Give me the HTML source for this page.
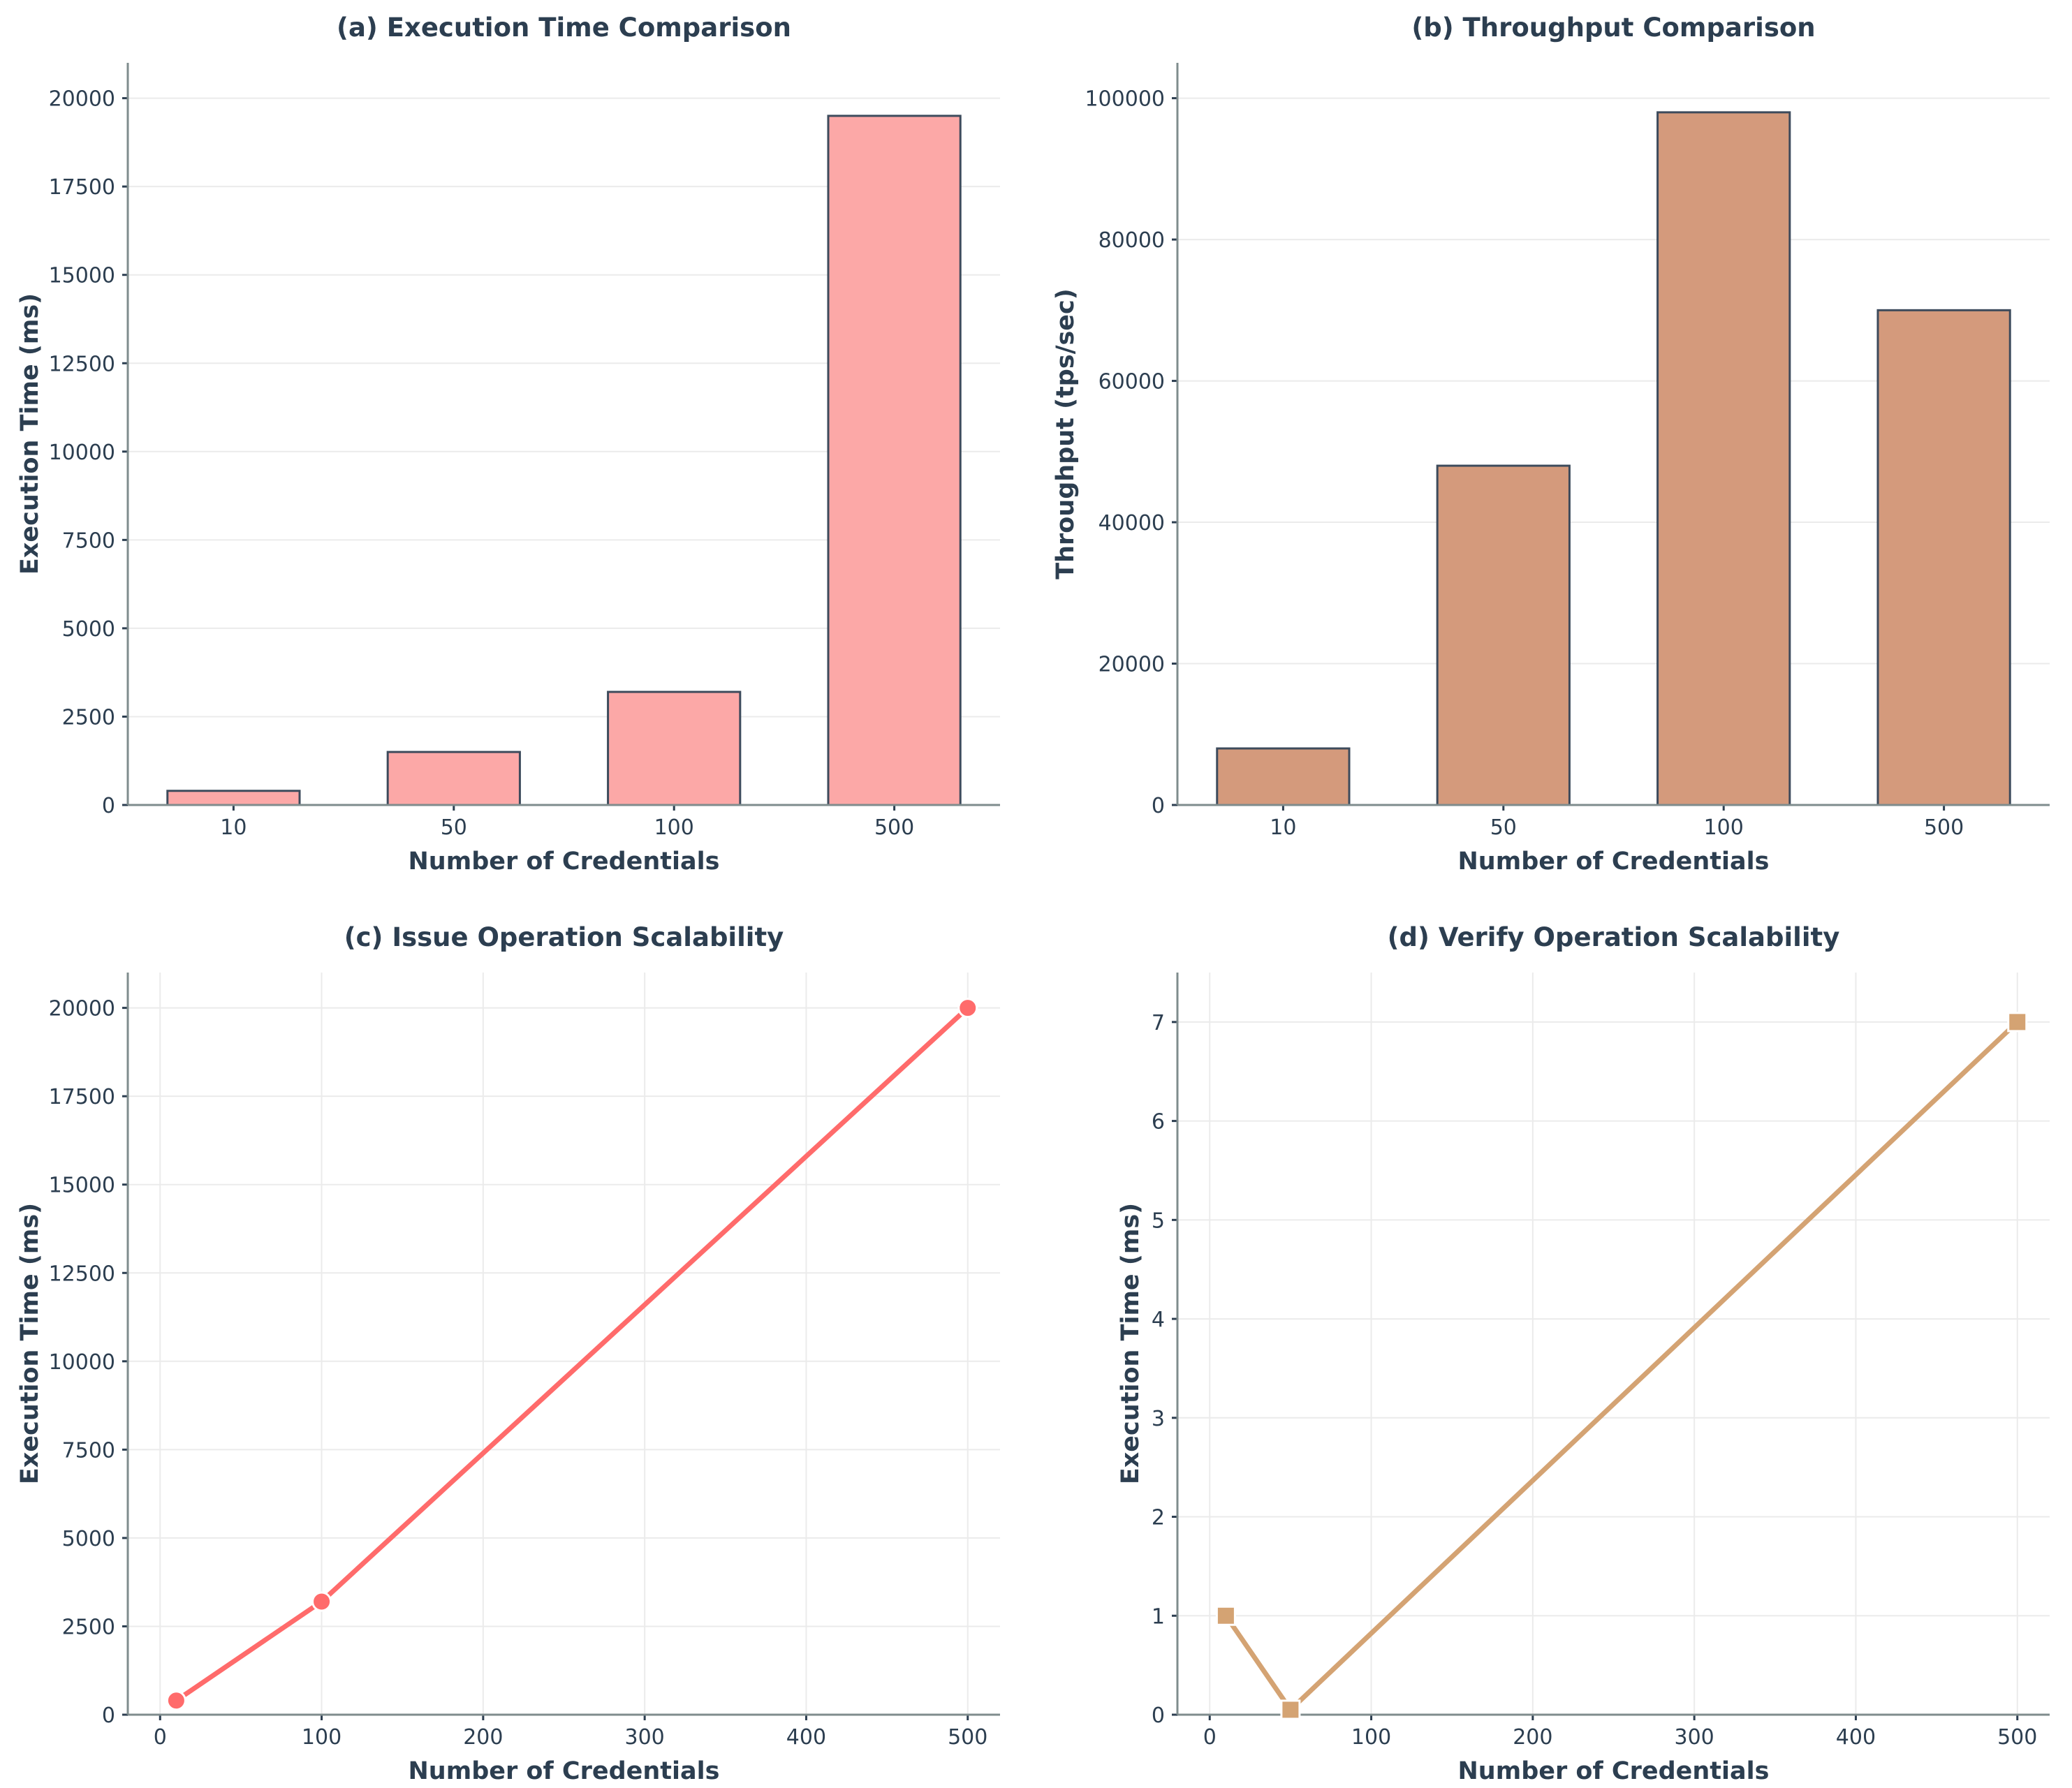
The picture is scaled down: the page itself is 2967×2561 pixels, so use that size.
<!DOCTYPE html>
<html><head><meta charset="utf-8"><style>
html,body{margin:0;padding:0;background:#fff}
svg{display:block;font-family:"DejaVu Sans","Liberation Sans",sans-serif}
</style></head><body>
<svg id="fig" width="2967" height="2561" viewBox="0 0 2967 2561" xmlns="http://www.w3.org/2000/svg"></svg>
<script>
const barCats = ["10","50","100","500"];
const execTimes = [400,1500,3200,19500];
const throughputs = [8000,48000,98000,70000];
const issueX = [10,100,500];
const issueY = [400,3200,20000];
const verifyX = [10,50,500];
const verifyY = [1,0.05,7];
const ticksA = [0,2500,5000,7500,10000,12500,15000,17500,20000];
const ticksB = [0,20000,40000,60000,80000,100000];
const ticksC = [0,2500,5000,7500,10000,12500,15000,17500,20000];
const ticksD = [0,1,2,3,4,5,6,7];
const ticksX = [0,100,200,300,400,500];

const NS="http://www.w3.org/2000/svg";
const svg=document.getElementById('fig');
function mk(tag,attrs,parent,text){const e=document.createElementNS(NS,tag);for(const k in attrs)e.setAttribute(k,attrs[k]);if(text!==undefined)e.textContent=text;(parent||svg).appendChild(e);return e;}
const TXT="#2c3e50", SP="#7f8c8d", GR="#ebebeb";

function panel(id,L,T,title,ylabel,xlabel){
  const W=1249,H=1063;
  const g=mk('g',{});
  
  
  const p={g,L,T,R:L+W,B:T+H,W,H};
  const t=mk('text',{x:L+W/2,y:T-38,'text-anchor':'middle','font-size':37,'font-weight':'bold',fill:TXT},g,title);
  
  const xl=mk('text',{x:L+W/2,y:T+H+92,'text-anchor':'middle','font-size':35,'font-weight':'bold',fill:TXT},g,xlabel);
  
  const yx=ylabel.x;
  const yl=mk('text',{x:yx,y:T+H/2,'text-anchor':'middle','font-size':35,'font-weight':'bold',fill:TXT,transform:`rotate(-90 ${yx} ${T+H/2})`},g,ylabel.t);
  
  return p;
}
function yaxis(p,ticks,max,fmt){
  const sy=v=>p.B-(v/max)*p.H;
  ticks.forEach(v=>{
    const y=sy(v);
    const gl=mk('line',{x1:p.L,x2:p.R,y1:y,y2:y,stroke:GR,'stroke-width':2},p.g);
    
    mk('line',{x1:p.L-8,x2:p.L,y1:y,y2:y,stroke:TXT,'stroke-width':3},p.g);
    const tl=mk('text',{x:p.L-18,y:y+11,'text-anchor':'end','font-size':30,fill:TXT},p.g,fmt?fmt(v):String(v));
    
  });
  return sy;
}
function spines(p){
  mk('line',{x1:p.L,x2:p.L,y1:p.T,y2:p.B,stroke:SP,'stroke-width':3},p.g);
  mk('line',{x1:p.L,x2:p.R,y1:p.B,y2:p.B,stroke:SP,'stroke-width':3},p.g);
}
function barPanel(p,vals,ticks,max,fill){
  const sy=yaxis(p,ticks,max);
  const x0=-0.48,x1=3.48;
  const sx=i=>p.L+(i-x0)/(x1-x0)*p.W;
  const bw=0.6*p.W/(x1-x0);
  vals.forEach((v,i)=>{
    const r=mk('rect',{x:sx(i)-bw/2,y:sy(v),width:bw,height:p.B-sy(v),fill:fill,stroke:"#3d4b5c",'stroke-width':3},p.g);
    
  });
  barCats.forEach((c,i)=>{
    const x=sx(i);
    mk('line',{x1:x,x2:x,y1:p.B,y2:p.B+8,stroke:TXT,'stroke-width':3},p.g);
    const tl=mk('text',{x:x,y:p.B+42,'text-anchor':'middle','font-size':30,fill:TXT},p.g,c);
    
  });
  spines(p);
}
function linePanel(p,xs,ys,ticks,max,color,marker){
  const sx=v=>p.L+(v+20)/540*p.W;
  ticksX.forEach(v=>{
    const x=sx(v);
    const gl=mk('line',{x1:x,x2:x,y1:p.T,y2:p.B,stroke:GR,'stroke-width':2},p.g);
    
    mk('line',{x1:x,x2:x,y1:p.B,y2:p.B+8,stroke:TXT,'stroke-width':3},p.g);
    const tl=mk('text',{x:x,y:p.B+42,'text-anchor':'middle','font-size':30,fill:TXT},p.g,String(v));
    
  });
  const sy=yaxis(p,ticks,max);
  spines(p);
  const pts=xs.map((x,i)=>sx(x)+','+sy(ys[i])).join(' ');
  const ln=mk('polyline',{points:pts,fill:'none',stroke:color,'stroke-width':7,'stroke-linejoin':'round'},p.g);
  
  xs.forEach((x,i)=>{
    let m;
    if(marker==='circle') m=mk('circle',{cx:sx(x),cy:sy(ys[i]),r:13,fill:color,stroke:'#fff','stroke-width':3},p.g);
    else m=mk('rect',{x:sx(x)-13,y:sy(ys[i])-13,width:26,height:26,fill:color,stroke:'#fff','stroke-width':3},p.g);
    
  });
}
const pa=panel('panel-a-execution-time',183,90,'(a) Execution Time Comparison',{t:'Execution Time (ms)',x:54},'Number of Credentials');
barPanel(pa,execTimes,ticksA,21000,'#fca8a7');
const pb=panel('panel-b-throughput',1686,90,'(b) Throughput Comparison',{t:'Throughput (tps/sec)',x:1537},'Number of Credentials');
barPanel(pb,throughputs,ticksB,105000,'#d49a7c');
const pc=panel('panel-c-issue-scalability',183,1393,'(c) Issue Operation Scalability',{t:'Execution Time (ms)',x:54},'Number of Credentials');
linePanel(pc,issueX,issueY,ticksC,21000,'#ff6b6b','circle');
const pd=panel('panel-d-verify-scalability',1686,1393,'(d) Verify Operation Scalability',{t:'Execution Time (ms)',x:1630},'Number of Credentials');
linePanel(pd,verifyX,verifyY,ticksD,7.5,'#d4a373','square');
</script>
</body></html>
